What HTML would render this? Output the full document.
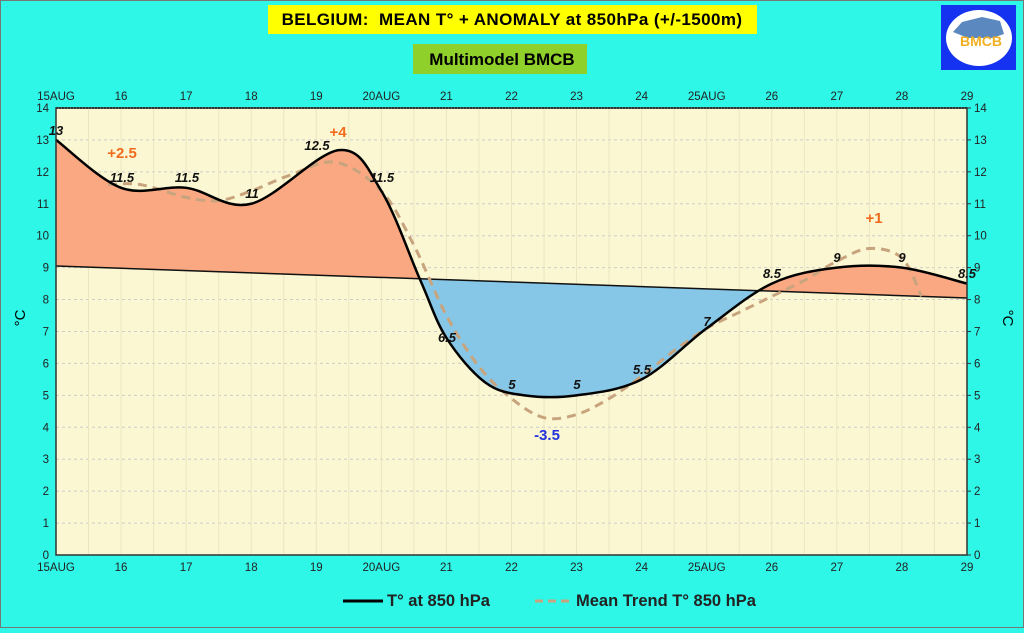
<!DOCTYPE html>
<html><head><meta charset="utf-8"><style>
body{margin:0;width:1024px;height:628px;overflow:hidden;background:#2ff7e8;font-family:"Liberation Sans",sans-serif}
</style></head><body>
<svg id="s" width="1024" height="628" xmlns="http://www.w3.org/2000/svg" font-family="Liberation Sans, sans-serif">
<rect x="0.5" y="0.5" width="1023" height="627" fill="#2ff7e8" stroke="#777"/>
<rect x="268" y="5" width="489" height="29" fill="#ffff00"/>
<text x="512" y="25" text-anchor="middle" font-size="17" font-weight="bold" letter-spacing="0.4">BELGIUM:&#160; MEAN T° + ANOMALY at 850hPa (+/-1500m)</text>
<rect x="413" y="44" width="174" height="30" fill="#8fd12a"/>
<text x="502" y="65" text-anchor="middle" font-size="17" font-weight="bold">Multimodel BMCB</text>
<rect x="941" y="5" width="75" height="65" fill="#1432f0"/>
<ellipse cx="979" cy="38" rx="33" ry="28" fill="#fff"/>
<path d="M953 32 L962 22 L982 17 L1000 21 L1004 34 L992 38 L968 38Z" fill="#5c88c0"/>
<text x="981" y="46" text-anchor="middle" font-size="14" font-weight="bold" fill="#f0b020">BMCB</text>
<rect x="56" y="108" width="911" height="447" fill="#faf7d2"/>
<g id="grid"></g>
<g id="fills"></g>
<rect x="56" y="108" width="911" height="447" fill="none" stroke="#333" stroke-width="1.5"/>
<line x1="56" y1="108" x2="967" y2="108" stroke="#333" stroke-width="2" stroke-dasharray="2,1"/>
<g id="lab" font-size="11.5" fill="#222"></g>
<text transform="translate(25,318) rotate(-90)" text-anchor="middle" font-size="15">°C</text>
<text transform="translate(1003,318) rotate(90)" text-anchor="middle" font-size="15">°C</text>
<g font-size="13" font-weight="bold" font-style="italic" fill="#111">
<text x="56" y="135" text-anchor="middle">13</text>
<text x="122" y="182" text-anchor="middle">11.5</text>
<text x="187" y="182" text-anchor="middle">11.5</text>
<text x="252" y="198" text-anchor="middle">11</text>
<text x="317" y="150" text-anchor="middle">12.5</text>
<text x="382" y="182" text-anchor="middle">11.5</text>
<text x="447" y="342" text-anchor="middle">6.5</text>
<text x="512" y="389" text-anchor="middle">5</text>
<text x="577" y="389" text-anchor="middle">5</text>
<text x="642" y="374" text-anchor="middle">5.5</text>
<text x="707" y="326" text-anchor="middle">7</text>
<text x="772" y="278" text-anchor="middle">8.5</text>
<text x="837" y="262" text-anchor="middle">9</text>
<text x="902" y="262" text-anchor="middle">9</text>
<text x="967" y="278" text-anchor="middle">8.5</text>
</g>
<g font-size="15" font-weight="bold" fill="#f26b1d" text-anchor="middle">
<text x="122" y="158">+2.5</text><text x="338" y="137">+4</text><text x="874" y="223">+1</text>
<text x="547" y="440" fill="#2233dd">-3.5</text>
</g>
<line x1="343" y1="601" x2="383" y2="601" stroke="#000" stroke-width="3"/>
<text x="387" y="606" font-size="16.5" font-weight="bold" fill="#222">T° at 850 hPa</text>
<line x1="535" y1="601" x2="572" y2="601" stroke="#c8a47e" stroke-width="3" stroke-dasharray="8,5"/>
<text x="576" y="606" font-size="16.5" font-weight="bold" fill="#222">Mean Trend T° 850 hPa</text>
</svg>
<script>
const NS="http://www.w3.org/2000/svg";
const X=d=>56+d*65.07, Y=v=>555-v*31.93;
function el(p,t,a,txt){const e=document.createElementNS(NS,t);for(const k in a)e.setAttribute(k,a[k]);if(txt!==undefined)e.textContent=txt;p.appendChild(e);return e;}
const g=document.getElementById('grid'),L=document.getElementById('lab'),F=document.getElementById('fills');
for(let v=1;v<14;v++)el(g,'line',{x1:56,x2:967,y1:Y(v),y2:Y(v),stroke:'#ccc','stroke-dasharray':'3,3'});
for(let d=0.5;d<14;d+=0.5)el(g,'line',{x1:X(d),x2:X(d),y1:108,y2:555,stroke:'#ebe6c0'});
const names=['15AUG','16','17','18','19','20AUG','21','22','23','24','25AUG','26','27','28','29'];
names.forEach((n,i)=>{el(L,'text',{x:X(i),y:100,'text-anchor':'middle'},n);el(L,'text',{x:X(i),y:571,'text-anchor':'middle'},n);});
for(let v=0;v<=14;v++){el(L,'text',{x:49,y:Y(v)+4,'text-anchor':'end'},v);el(L,'text',{x:974,y:Y(v)+4},v);
el(L,'line',{x1:967,x2:971,y1:Y(v),y2:Y(v),stroke:'#333'});}
function cr(pts){let d=`M${pts[0][0]},${pts[0][1]}`;for(let i=0;i<pts.length-1;i++){const p0=pts[i-1]||pts[i],p1=pts[i],p2=pts[i+1],p3=pts[i+2]||p2;
d+=` C${p1[0]+(p2[0]-p0[0])/6},${p1[1]+(p2[1]-p0[1])/6} ${p2[0]-(p3[0]-p1[0])/6},${p2[1]-(p3[1]-p1[1])/6} ${p2[0]},${p2[1]}`;}return d;}
const T=[[0,13],[1,11.5],[2,11.5],[3,11],[4.35,12.68],[5,11.4],[5.6,8.6],[6,6.8],[6.6,5.4],[7.2,5],[8,5],[9,5.5],[10,7.1],[11,8.5],[12,9],[13,9],[14,8.5]].map(p=>[X(p[0]),Y(p[1])]);
const M=[[0.8,11.6],[1.3,11.6],[2,11.2],[2.5,11.1],[3,11.4],[3.6,11.9],[4.3,12.3],[5,11.4],[5.5,9.7],[6,7.5],[6.5,5.9],[7,4.9],[7.5,4.3],[8,4.4],[8.5,4.9],[9,5.6],[9.5,6.4],[10,7.1],[10.5,7.6],[11,8.1],[11.5,8.6],[12,9.2],[12.5,9.6],[13,9.3],[13.3,8.1]].map(p=>[X(p[0]),Y(p[1])]);
const tp=cr(T), ly0=Y(9.05), ly1=Y(8.05);
const poly=tp+` L${X(14)},${ly1} L${X(0)},${ly0} Z`;
const defs=el(F,'defs',{});const cp=el(defs,'clipPath',{id:'below'});
el(cp,'polygon',{points:`${X(0)},${ly0} ${X(14)},${ly1} ${X(14)},555 ${X(0)},555`});
el(F,'path',{d:poly,fill:'#f9a882'});
el(F,'path',{d:poly,fill:'#86c6e6','clip-path':'url(#below)'});
el(F,'line',{x1:X(0),y1:ly0,x2:X(14),y2:ly1,stroke:'#111','stroke-width':1.5});
el(F,'path',{d:cr(M),fill:'none',stroke:'#c8a47e','stroke-width':3,'stroke-dasharray':'9,6'});
el(F,'path',{d:tp,fill:'none',stroke:'#000','stroke-width':2.5});
</script>
</body></html>
